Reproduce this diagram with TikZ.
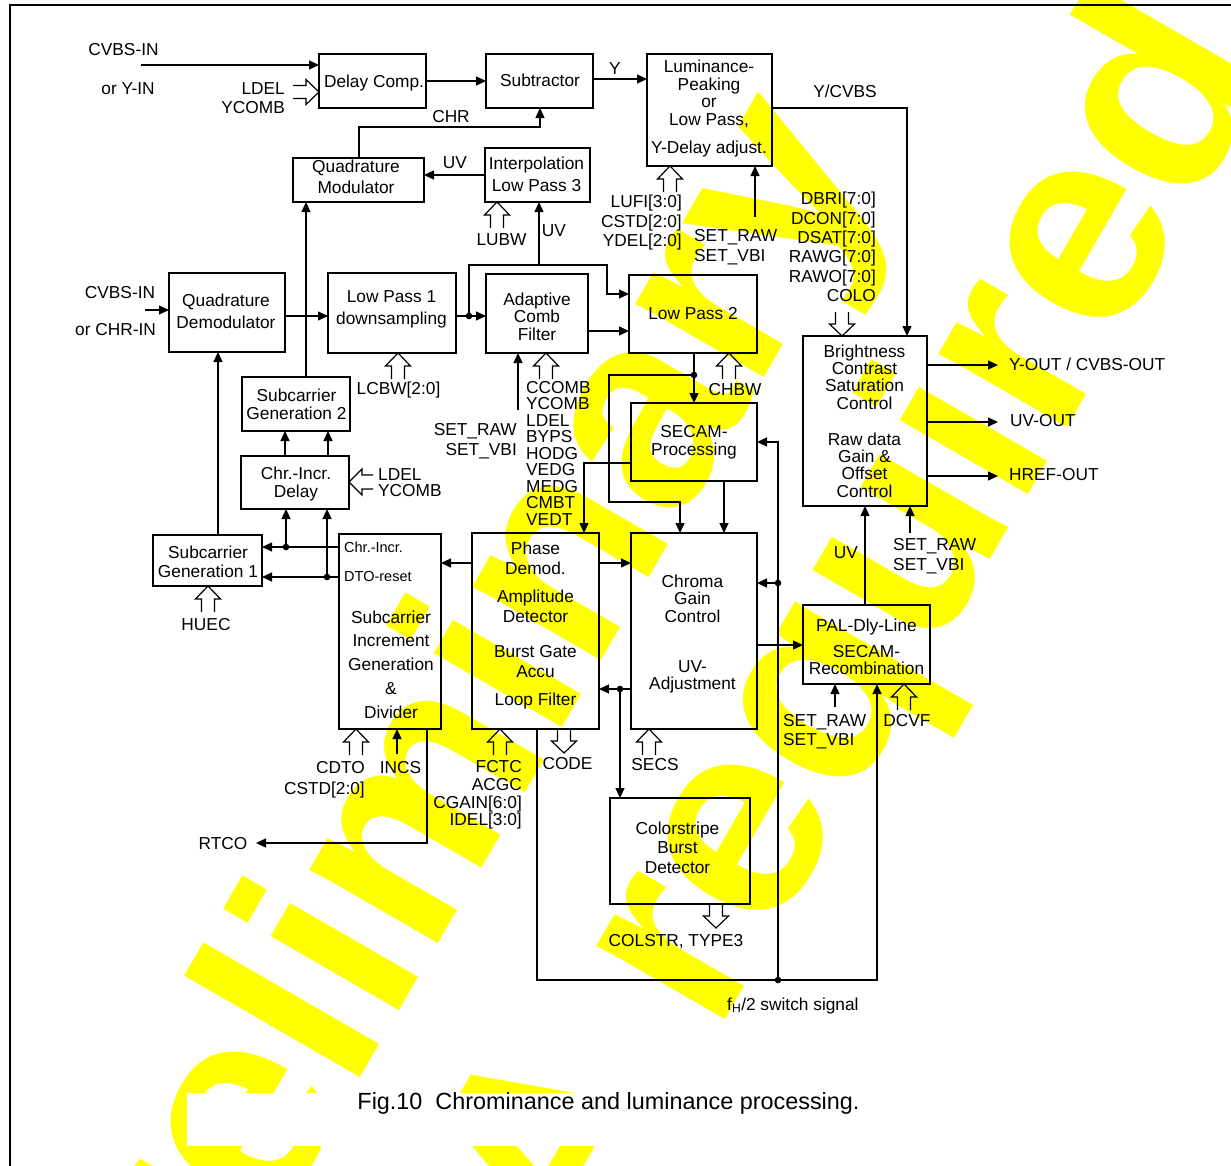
\documentclass[tikz,border=0pt]{standalone}
\usepackage{fontspec}
\setmainfont{Liberation Sans}
\usetikzlibrary{arrows.meta}
\definecolor{wm}{RGB}{255,255,0}
\newcommand\fs{\fontsize{17.3}{17.5}\selectfont}
\newcommand\fsm{\fontsize{14.5}{16}\selectfont}
\newcommand\busU[2]{\draw[bus] (#1-6.5,#2+26) -- (#1-6.5,#2+13) -- (#1-12.5,#2+13) -- (#1,#2) -- (#1+12.5,#2+13) -- (#1+6.5,#2+13) -- (#1+6.5,#2+26);}
\newcommand\busD[2]{\draw[bus] (#1-6.5,#2-24) -- (#1-6.5,#2-12) -- (#1-12.5,#2-12) -- (#1,#2) -- (#1+12.5,#2-12) -- (#1+6.5,#2-12) -- (#1+6.5,#2-24);}
\newcommand\busR[2]{\draw[bus] (#1-26,#2-6.5) -- (#1-13,#2-6.5) -- (#1-13,#2-12.5) -- (#1,#2) -- (#1-13,#2+12.5) -- (#1-13,#2+6.5) -- (#1-26,#2+6.5);}
\newcommand\busL[2]{\draw[bus] (#1+24,#2-7) -- (#1+13,#2-7) -- (#1+13,#2-13) -- (#1,#2) -- (#1+13,#2+13) -- (#1+13,#2+7) -- (#1+24,#2+7);}
\begin{document}
\begin{tikzpicture}[x=1pt,y=-1pt,
  box/.style={draw, line width=1.4pt, inner sep=0pt, outer sep=0pt},
  arr/.style={line width=1.3pt, -{Triangle[length=10pt,width=9pt]}},
  bus/.style={line width=1.2pt, line join=miter},
  lb/.style={inner sep=0pt, font=\fs, anchor=base, yshift=-6.2pt},
  blk/.style={inner sep=0pt, font=\fs, align=center},
  wmark/.style={rotate=60, anchor=base west, inner sep=0pt, text=wm, font=\fontsize{280}{300}\selectfont\bfseries},
  dot/.style={radius=3.3pt}]
\fill[white] (0,0) rectangle (1231,1165);
\useasboundingbox (0,0) rectangle (1231,1165);
% watermark (behind the drawing)
\begin{scope}
\clip (0,0) rectangle (1231,1165);
\node[wmark] (wm1) at (124.5,1486) {Preliminary};
\node[wmark] (wm2) at (373,1629.5) {NDA required};
\fill[white] (187,1093) rectangle (1030,1146);
\end{scope}
% frame
\draw[line width=1.8pt] (10,1170) -- (10,5) -- (1240,5);

% boxes
\node[box, minimum width=107pt, minimum height=54pt] (dc) at (372.5,81) {};
\node[box, minimum width=107pt, minimum height=54pt] (sub) at (539.5,81) {};
\node[box, minimum width=125pt, minimum height=112pt] (lum) at (709.5,110) {};
\node[box, minimum width=131pt, minimum height=44pt] (qm) at (358.5,180) {};
\node[box, minimum width=105pt, minimum height=54pt] (ilp) at (537.5,175) {};
\node[box, minimum width=116pt, minimum height=79pt] (qd) at (227,312.5) {};
\node[box, minimum width=128pt, minimum height=80pt] (lp1) at (392,313) {};
\node[box, minimum width=102pt, minimum height=79pt] (acf) at (537,313.5) {};
\node[box, minimum width=128pt, minimum height=78pt] (lp2) at (693,314) {};
\node[box, minimum width=126pt, minimum height=78pt] (sec) at (694,442) {};
\node[box, minimum width=124pt, minimum height=170pt] (bcs) at (865,421) {};
\node[box, minimum width=108pt, minimum height=54pt] (sg2) at (296,404) {};
\node[box, minimum width=108pt, minimum height=53pt] (cid) at (295,482.5) {};
\node[box, minimum width=109pt, minimum height=51pt] (sg1) at (207.5,560.5) {};
\node[box, minimum width=102pt, minimum height=195pt] (sig) at (390,631.5) {};
\node[box, minimum width=127pt, minimum height=196pt] (pd) at (535.5,631) {};
\node[box, minimum width=126pt, minimum height=196pt] (cgc) at (694,631) {};
\node[box, minimum width=127pt, minimum height=79pt] (pal) at (866.5,644.5) {};
\node[box, minimum width=140pt, minimum height=106pt] (csb) at (680,851) {};

% box texts
\node[lb] (dct) at (374,81) {Delay Comp.};
\node[lb] (subt) at (540,80) {Subtractor};
\node[blk] (lumt) at (709,108.5) {Luminance-\\Peaking\\or\\Low Pass,\\[10.5pt]Y-Delay adjust.};
\node[blk] (qmt) at (356,177) {Quadrature\\[3.5pt]Modulator};
\node[blk] (ilpt) at (536.5,174.5) {Interpolation\\[4.5pt]Low Pass 3};
\node[blk] (qdt) at (226,311.5) {Quadrature\\[4.5pt]Demodulator};
\node[blk] (lp1t) at (391.5,309.5) {Low Pass 1\\[4.5pt]downsampling};
\node[blk] (acft) at (537,316.5) {Adaptive\\Comb\\Filter};
\node[lb] (lp2t) at (693,313) {Low Pass 2};
\node[blk] (sect) at (694,442.5) {SECAM-\\[0.5pt]Processing};
\node[blk, font={\fontsize{17.3}{17.3}\selectfont}] (bcst) at (864.5,421) {Brightness\\Contrast\\Saturation\\Control\\[18.7pt]Raw data\\Gain \&\\Offset\\Control};
\node[blk] (sg2t) at (296.5,404) {Subcarrier\\[0.5pt]Generation 2};
\node[blk] (cidt) at (296,484.5) {Chr.-Incr.\\[0.5pt]Delay};
\node[blk] (sg1t) at (208,561.5) {Subcarrier\\[1.5pt]Generation 1};
\node[blk] (sigt) at (391,664.5) {Subcarrier\\[6.2pt]Increment\\[6.2pt]Generation\\[6.2pt]\&\\[6.2pt]Divider};
\node[inner sep=0pt, font=\fsm, anchor=base west, yshift=-5.2pt] (sigci) at (344,547) {Chr.-Incr.};
\node[inner sep=0pt, font=\fsm, anchor=base west, yshift=-5.2pt] (sigdr) at (344,576) {DTO-reset};
\node[blk, font={\fontsize{17.3}{20}\selectfont}] (pdt) at (535.5,626) {Phase\\Demod.\\[8pt]Amplitude\\Detector\\[15pt]Burst Gate\\Accu\\[8pt]Loop Filter};
\node[blk] (cgct) at (692.5,634) {Chroma\\Gain\\Control\\[32.5pt]UV-\\Adjustment};
\node[blk, font={\fontsize{17.3}{16.5}\selectfont}] (palt) at (866.5,647) {PAL-Dly-Line\\[9.5pt]SECAM-\\Recombination};
\node[blk, font={\fontsize{17.3}{19.5}\selectfont}] (csbt) at (677.5,847.5) {Colorstripe\\Burst\\Detector};

% connectors
\draw[arr] (141,65) -- (dc.west |- 0,65);
\draw[arr] (dc) -- (sub);
\draw[arr] (sub.east |- 0,79) -- (lum.west |- 0,79);
\draw[arr] (qm.north -| 359,0) -- (359,127) -- (540,127) -- (sub.south -| 540,0);
\draw[arr] (ilp.west |- 0,175) -- (qm.east |- 0,175);
\draw[arr] (lum.east |- 0,108) -- (907,108) -- (bcs.north -| 907,0);
\draw[arr] (755,217) -- (lum.south -| 755,0);
\draw[arr] (145,310) -- (qd.west |- 0,310);
\draw[arr] (qd.east |- 0,316) -- (lp1.west |- 0,316);
\draw[arr] (sg2.north -| 306,0) -- (qm.south -| 306,0);
\draw[arr] (sg1.north -| 218,0) -- (qd.south -| 218,0);
\draw[arr] (lp1.east |- 0,316) -- (acf.west |- 0,316);
\fill (469,316) circle[dot];
\draw[arr] (469,316) -- (469,265) -- (607,265) -- (607,294) -- (lp2.west |- 0,294);
\draw[arr] (539,265) -- (ilp.south -| 539,0);
\draw[arr] (acf.east |- 0,331) -- (lp2.west |- 0,331);
\draw[arr] (518,410) -- (acf.south -| 518,0);
\draw[arr] (lp2.south -| 694,0) -- (sec.north -| 694,0);
\fill (694,375) circle[dot];
\draw[arr] (694,375) -- (609,375) -- (609,502) -- (680,502) -- (cgc.north -| 680,0);
\draw[arr] (sec.south -| 724,0) -- (cgc.north -| 724,0);
\draw[arr] (sec.west |- 0,463) -- (584,463) -- (pd.north -| 584,0);
\draw[arr] (778,980) -- (778,442) -- (sec.east |- 0,442);
\fill (778,583) circle[dot];
\draw[arr] (778,583) -- (cgc.east |- 0,583);
\draw[arr] (pd.south -| 537,0) -- (537,980) -- (877,980) -- (pal.south -| 877,0);
\fill (778,980) circle[dot];
\draw[arr] (cgc.east |- 0,645) -- (pal.west |- 0,645);
\draw[arr] (pal.north -| 865,0) -- (bcs.south -| 865,0);
\draw[arr] (910,533) -- (bcs.south -| 910,0);
\draw[arr] (835,707) -- (pal.south -| 835,0);
\draw[arr] (bcs.east |- 0,365) -- (998,365);
\draw[arr] (bcs.east |- 0,422) -- (998,422);
\draw[arr] (bcs.east |- 0,476) -- (998,476);
\draw[arr] (pd.east |- 0,563) -- (cgc.west |- 0,563);
\draw[arr] (pd.west |- 0,563) -- (sig.east |- 0,563);
\draw[arr] (cgc.west |- 0,689) -- (pd.east |- 0,689);
\fill (620,689) circle[dot];
\draw[arr] (620,689) -- (csb.north -| 620,0);
\draw[arr] (397,754) -- (sig.south -| 397,0);
\draw[arr] (sig.south -| 427,0) -- (427,843) -- (256,843);
\draw[arr] (sig.west |- 0,547) -- (sg1.east |- 0,547);
\draw[arr] (sig.west |- 0,577) -- (sg1.east |- 0,577);
\fill (286,547) circle[dot];
\fill (327,577) circle[dot];
\draw[arr] (286,547) -- (cid.south -| 286,0);
\draw[arr] (327,577) -- (cid.south -| 327,0);
\draw[arr] (cid.north -| 285,0) -- (sg2.south -| 285,0);
\draw[arr] (cid.north -| 328,0) -- (sg2.south -| 328,0);

% bus arrows
\busR{319}{92}
\busU{497}{202}
\busU{670}{166}
\busD{842}{336}
\busU{398}{353}
\busU{546}{353}
\busU{729}{353}
\busL{349}{482}
\busU{208}{586}
\busU{356}{729}
\busU{500}{729}
\busD{564}{753}
\busU{649}{729}
\busU{904}{684}
\busD{716}{928}

% labels
\node[lb] (lcv1) at (123.5,49) {CVBS-IN};
\node[lb] (lory) at (128,88) {or Y-IN};
\node[blk, align=right, anchor=east] (lldel1) at (285,98.5) {LDEL\\[1.5pt]YCOMB};
\node[lb] (ly) at (615,68) {Y};
\node[lb] (lchr) at (451,116.5) {CHR};
\node[lb] (luv1) at (455,162) {UV};
\node[lb] (lycv) at (845,91) {Y/CVBS};
\node[blk, align=right, anchor=east] (llufi) at (682,223) {LUFI[3:0]\\[2pt]CSTD[2:0]\\[2pt]YDEL[2:0]};
\node[lb] (llubw) at (501.5,239) {LUBW};
\node[lb] (luv2) at (554,230.5) {UV};
\node[blk, align=left, anchor=west] (lsr1) at (694,247) {SET\_RAW\\[3pt]SET\_VBI};
\node[blk, align=right, anchor=east, font={\fontsize{17.3}{19.3}\selectfont}] (ldbri) at (876,247) {DBRI[7:0]\\DCON[7:0]\\DSAT[7:0]\\RAWG[7:0]\\RAWO[7:0]\\COLO};
\node[lb] (lcv2) at (120,292) {CVBS-IN};
\node[lb] (lorc) at (115.5,329.5) {or CHR-IN};
\node[lb] (llcbw) at (398.5,388.5) {LCBW[2:0]};
\node[blk, align=right, anchor=east] (lsr2) at (517,441.5) {SET\_RAW\\[2.5pt]SET\_VBI};
\node[blk, align=left, anchor=west, font={\fontsize{17.3}{16.5}\selectfont}] (lccomb) at (526,453) {CCOMB\\YCOMB\\LDEL\\BYPS\\HODG\\VEDG\\MEDG\\CMBT\\VEDT};
\node[lb] (lchbw) at (735,389) {CHBW};
\node[blk, align=left, anchor=west, font={\fontsize{17.3}{16.5}\selectfont}] (lldel2) at (378,482.75) {LDEL\\YCOMB};
\node[lb] (lhuec) at (206,624.5) {HUEC};
\node[blk, align=right, anchor=east] (lcdto) at (365,779.5) {CDTO\\[3.5pt]CSTD[2:0]};
\node[lb] (lincs) at (400.5,767.5) {INCS};
\node[lb] (lrtco) at (223,843.5) {RTCO};
\node[blk, align=right, anchor=east, font={\fontsize{17.3}{17.7}\selectfont}] (lfctc) at (522,795) {FCTC\\ACGC\\CGAIN[6:0]\\IDEL[3:0]};
\node[lb] (lcode) at (567.5,763.5) {CODE};
\node[lb] (lsecs) at (655,764.5) {SECS};
\node[lb] (luv3) at (846,552) {UV};
\node[blk, align=left, anchor=west] (lsr3) at (893,556) {SET\_RAW\\[2pt]SET\_VBI};
\node[blk, align=left, anchor=west] (lsr4) at (783,731.5) {SET\_RAW\\[2pt]SET\_VBI};
\node[lb] (ldcvf) at (907,720.5) {DCVF};
\node[lb, anchor=base west] (lyout) at (1009,364) {Y-OUT / CVBS-OUT};
\node[lb, anchor=base west] (luvout) at (1010,420) {UV-OUT};
\node[lb, anchor=base west] (lhref) at (1009,474) {HREF-OUT};
\node[lb] (lcolstr) at (676,940.5) {COLSTR, TYPE3};
\node[inner sep=0pt, font=\fs, anchor=base west] (lfh) at (727,1010) {f\textsubscript{H}/2 switch signal};
\node[inner sep=0pt, font={\fontsize{23.4}{26}\selectfont}, anchor=base] (cap) at (608.5,1109) {Fig.10\ \ Chrominance and luminance processing.};
\end{tikzpicture}
\end{document}
